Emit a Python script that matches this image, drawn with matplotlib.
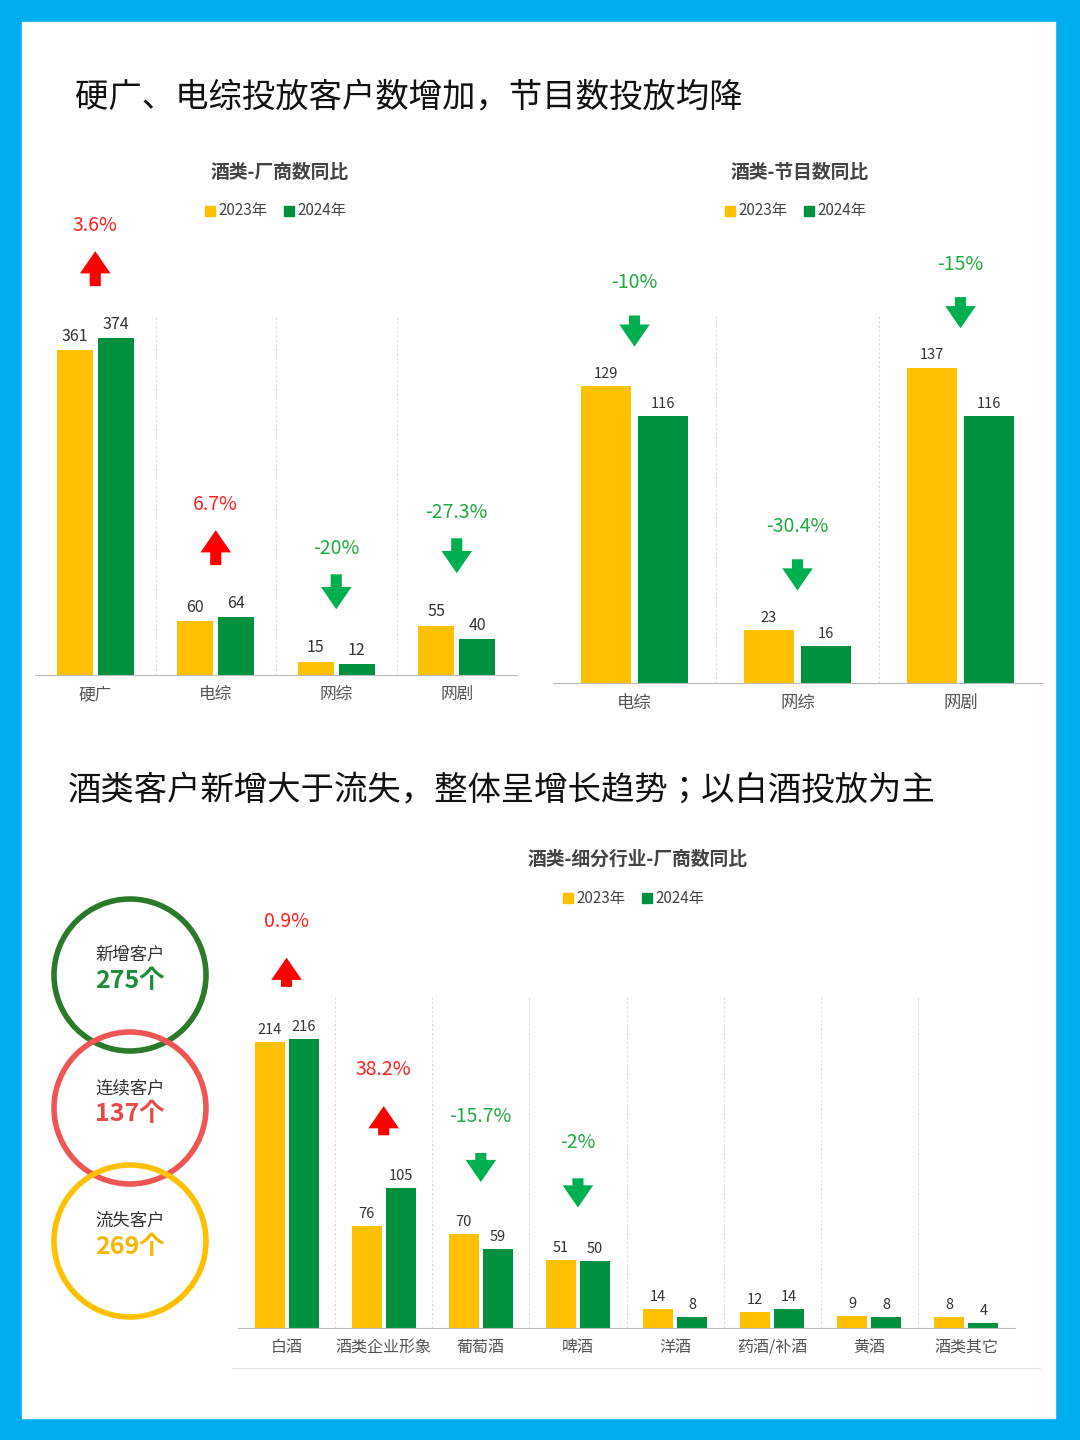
import matplotlib.pyplot as plt
import numpy as np
from matplotlib.patches import Rectangle, Circle

plt.rcParams['font.family'] = ['Noto Sans CJK JP', 'Noto Sans CJK SC', 'DejaVu Sans']

YELLOW = '#FFC000'
GREEN = '#00913F'
RED_ARROW = '#FF0000'
GREEN_ARROW = '#00B050'

# 数据
cat1 = ['硬广', '电综', '网综', '网剧']
v1_2023 = [361, 60, 15, 55]
v1_2024 = [374, 64, 12, 40]
pct1 = ['3.6%', '6.7%', '-20%', '-27.3%']

cat2 = ['电综', '网综', '网剧']
v2_2023 = [129, 23, 137]
v2_2024 = [116, 16, 116]
pct2 = ['-10%', '-30.4%', '-15%']

cat3 = ['白酒', '酒类企业形象', '葡萄酒', '啤酒', '洋酒', '药酒/补酒', '黄酒', '酒类其它']
v3_2023 = [214, 76, 70, 51, 14, 12, 9, 8]
v3_2024 = [216, 105, 59, 50, 8, 14, 8, 4]
pct3 = ['0.9%', '38.2%', '-15.7%', '-2%', None, None, None, None]

circle_labels = ['新增客户', '连续客户', '流失客户']
circle_values = ['275个', '137个', '269个']

W, H = 1080, 1440
fig = plt.figure(figsize=(10.8, 14.4), dpi=100)

bg = fig.add_axes([0, 0, 1, 1])
bg.set_xlim(0, W)
bg.set_ylim(H, 0)
bg.axis('off')
bg.add_patch(Rectangle((0, 0), W, H, color='#00AEEF'))
bg.add_patch(Rectangle((22, 22), 1033, 1396, color='white'))

bg.text(75, 97, '硬广、电综投放客户数增加，节目数投放均降', fontsize=24, va='center', color='#111111')
bg.text(68, 790, '酒类客户新增大于流失，整体呈增长趋势；以白酒投放为主', fontsize=24, va='center', color='#111111')

circle_colors = ['#2A7A2A', '#F05555', '#FFC000']
text_colors = ['#1E8C3A', '#E84A4A', '#F5B800']
for i, (lab, val) in enumerate(zip(circle_labels, circle_values)):
    cy = 975 + i * 133
    bg.add_patch(Circle((130, cy), 76, fill=False, lw=4, ec=circle_colors[i]))
    bg.text(130, cy - 20, lab, fontsize=12.5, ha='center', va='center', color='#333333')
    bg.text(130, cy + 6, val, fontsize=18, ha='center', va='center', color=text_colors[i], fontweight='bold')


def legend(cx, y):
    bg.add_patch(Rectangle((cx - 75, y - 5), 10, 10, color=YELLOW))
    bg.text(cx - 62, y, '2023年', fontsize=11, va='center', color='#444444')
    bg.add_patch(Rectangle((cx + 4, y - 5), 10, 10, color=GREEN))
    bg.text(cx + 17, y, '2024年', fontsize=11, va='center', color='#444444')


def chart(box, cats, a, b, pcts, ymax, toff, ahigh, alow, lfs, cfs, width, title, tpos):
    x0, y0, x1, y1 = box
    ax = fig.add_axes([x0 / W, 1 - y1 / H, (x1 - x0) / W, (y1 - y0) / H])
    ax.patch.set_alpha(0)
    x = np.arange(len(cats))
    ax.bar(x - width / 2 - 0.02, a, width, color=YELLOW)
    ax.bar(x + width / 2 + 0.02, b, width, color=GREEN)
    for xi, va_, vb, p in zip(x, a, b, pcts):
        ax.text(xi - width / 2 - 0.02, va_ + ymax * 0.015, str(va_), ha='center', va='bottom', fontsize=lfs, color='#333333')
        ax.text(xi + width / 2 + 0.02, vb + ymax * 0.015, str(vb), ha='center', va='bottom', fontsize=lfs, color='#333333')
        if p:
            up = not p.startswith('-')
            col = RED_ARROW if up else GREEN_ARROW
            m = max(va_, vb)
            ax.text(xi, m + toff, p, ha='center', va='center', fontsize=14, color='#FF2020' if up else '#22AA44', clip_on=False)
            s, e = (m + alow, m + ahigh) if up else (m + ahigh, m + alow)
            ax.annotate('', xy=(xi, e), xytext=(xi, s), annotation_clip=False,
                        arrowprops=dict(arrowstyle='simple,head_width=1.1,head_length=0.8,tail_width=0.4',
                                        color=col, mutation_scale=20, lw=0))
    for xi in x[:-1]:
        ax.axvline(xi + 0.5, color='#DDDDDD', ls=(0, (2, 2)), lw=0.8)
    ax.set_xlim(-0.5, len(cats) - 0.5)
    ax.set_ylim(0, ymax)
    ax.set_xticks(x)
    ax.set_xticklabels(cats, fontsize=cfs, color='#555555')
    ax.tick_params(length=0, pad=8)
    ax.set_yticks([])
    for s in ['top', 'right', 'left']:
        ax.spines[s].set_visible(False)
    ax.spines['bottom'].set_color('#BBBBBB')
    bg.text(tpos[0], tpos[1], title, fontsize=13.5, fontweight='bold', ha='center', va='center', color='#444444')
    legend(tpos[0], tpos[1] + 39)
    return ax


chart((35, 315, 517, 675), cat1, v1_2023, v1_2024, pct1, 400, 125, 100, 55, 11.5, 12, 0.3,
      '酒类-厂商数同比', (280, 172))
chart((553, 315, 1042, 683), cat2, v2_2023, v2_2024, pct2, 160, 45, 32, 16, 10.5, 12.5, 0.31,
      '酒类-节目数同比', (800, 172))
chart((238, 995, 1015, 1328), cat3, v3_2023, v3_2024, pct3, 249, 88, 63, 37, 10.5, 11.5, 0.31,
      '酒类-细分行业-厂商数同比', (638, 859))
bg.plot([232, 1040], [1368, 1368], color='#E5E5E5', lw=0.8)

fig.savefig('out.png', dpi=100)
